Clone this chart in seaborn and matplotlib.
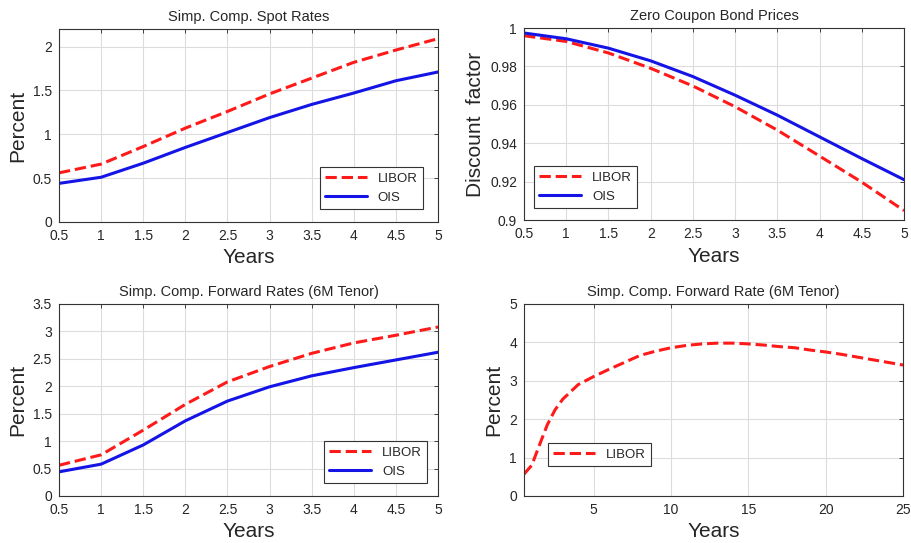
import numpy as np
import pandas as pd
import seaborn as sns
import matplotlib
matplotlib.use("Agg")
import matplotlib.pyplot as plt

# Maturities (years)
years = [0.5, 1.0, 1.5, 2.0, 2.5, 3.0, 3.5, 4.0, 4.5, 5.0]
year_labels = ["0.5", "1", "1.5", "2", "2.5", "3", "3.5", "4", "4.5", "5"]

# Simple compounded spot rates (%)
spot_libor = [0.56, 0.66, 0.86, 1.07, 1.26, 1.46, 1.64, 1.82, 1.96, 2.09]
spot_ois = [0.44, 0.51, 0.67, 0.85, 1.02, 1.19, 1.34, 1.47, 1.61, 1.71]

# Zero coupon bond prices
zcb_libor = [0.9960, 0.9930, 0.9870, 0.9790, 0.9698, 0.9590, 0.9468, 0.9333, 0.9197, 0.9049]
zcb_ois = [0.9974, 0.9944, 0.9895, 0.9829, 0.9747, 0.9650, 0.9546, 0.9433, 0.9320, 0.9210]

# Simple compounded forward rates, 6M tenor (%)
fwd_libor = [0.56, 0.75, 1.20, 1.67, 2.08, 2.36, 2.60, 2.79, 2.93, 3.08]
fwd_ois = [0.44, 0.58, 0.93, 1.37, 1.73, 1.99, 2.19, 2.34, 2.48, 2.62]

# Long horizon LIBOR forward curve
long_years = [0.5, 1, 1.5, 2, 2.5, 3, 4, 5, 6, 7, 8, 9, 10, 11, 12, 13, 14,
              15, 16, 17, 18, 19, 20, 21, 22, 23, 24, 25]
long_libor = [0.57, 0.80, 1.33, 1.85, 2.24, 2.52, 2.90, 3.11, 3.30, 3.48, 3.66,
              3.77, 3.86, 3.92, 3.96, 3.98, 3.98, 3.96, 3.93, 3.89, 3.86, 3.80,
              3.75, 3.69, 3.62, 3.55, 3.48, 3.41]

RED = "#ff1a1a"
BLUE = "#1414e6"

sns.set_style("white")
plt.rcParams["font.family"] = ["Liberation Sans", "DejaVu Sans"]
plt.rcParams["xtick.direction"] = "in"
plt.rcParams["ytick.direction"] = "in"


def style_axes(ax, title, ylabel):
    ax.set_title(title, fontsize=10.5, pad=6)
    ax.set_xlabel("Years", fontsize=15, labelpad=4)
    ax.set_ylabel(ylabel, fontsize=15, labelpad=4)
    ax.grid(True, color="#dcdcdc", linewidth=0.8)
    ax.tick_params(labelsize=10, top=True, right=True, length=3, width=0.6)
    ax.tick_params(axis="x", pad=5)
    ax.tick_params(axis="y", pad=5)
    for s in ax.spines.values():
        s.set_color("#333333")
        s.set_linewidth(0.8)


def add_legend(ax, loc, anchor):
    leg = ax.legend(loc=loc, bbox_to_anchor=anchor, borderaxespad=0,
                    fontsize=9.5, fancybox=False, framealpha=1,
                    edgecolor="#333333", handlelength=3.2)
    leg.get_frame().set_linewidth(0.8)


fig = plt.figure(figsize=(9.12, 5.43), dpi=100)
ax1 = fig.add_axes([0.0647, 0.5912, 0.4156, 0.3554])
ax2 = fig.add_axes([0.5746, 0.5948, 0.4167, 0.3536])
ax3 = fig.add_axes([0.0647, 0.0866, 0.4156, 0.3536])
ax4 = fig.add_axes([0.5746, 0.0866, 0.4156, 0.3536])

# Spot rates
sns.lineplot(x=years, y=spot_libor, ax=ax1, color=RED, linestyle="--", linewidth=2.2, label="LIBOR")
sns.lineplot(x=years, y=spot_ois, ax=ax1, color=BLUE, linewidth=2.2, label="OIS")
ax1.set_xlim(0.5, 5)
ax1.set_ylim(0, 2.2)
ax1.set_xticks(years)
ax1.set_xticklabels(year_labels)
ax1.set_yticks([0, 0.5, 1, 1.5, 2])
ax1.set_yticklabels(["0", "0.5", "1", "1.5", "2"])
style_axes(ax1, "Simp. Comp. Spot Rates", "Percent")
add_legend(ax1, "lower right", (0.96, 0.067))

# Zero coupon bond prices
sns.lineplot(x=years, y=zcb_libor, ax=ax2, color=RED, linestyle="--", linewidth=2.2, label="LIBOR")
sns.lineplot(x=years, y=zcb_ois, ax=ax2, color=BLUE, linewidth=2.2, label="OIS")
ax2.set_xlim(0.5, 5)
ax2.set_ylim(0.9, 1.0)
ax2.set_xticks(years)
ax2.set_xticklabels(year_labels)
ax2.set_yticks([0.9, 0.92, 0.94, 0.96, 0.98, 1.0])
ax2.set_yticklabels(["0.9", "0.92", "0.94", "0.96", "0.98", "1"])
style_axes(ax2, "Zero Coupon Bond Prices", "Discount  factor")
add_legend(ax2, "lower left", (0.026, 0.0625))

# Forward rates
sns.lineplot(x=years, y=fwd_libor, ax=ax3, color=RED, linestyle="--", linewidth=2.2, label="LIBOR")
sns.lineplot(x=years, y=fwd_ois, ax=ax3, color=BLUE, linewidth=2.2, label="OIS")
ax3.set_xlim(0.5, 5)
ax3.set_ylim(0, 3.5)
ax3.set_xticks(years)
ax3.set_xticklabels(year_labels)
ax3.set_yticks(np.arange(0, 3.51, 0.5))
ax3.set_yticklabels(["0", "0.5", "1", "1.5", "2", "2.5", "3", "3.5"])
style_axes(ax3, "Simp. Comp. Forward Rates (6M Tenor)", "Percent")
add_legend(ax3, "lower right", (0.971, 0.068))

# Long forward curve
sns.lineplot(x=long_years, y=long_libor, ax=ax4, color=RED, linestyle="--", linewidth=2.2, label="LIBOR")
ax4.set_xlim(0.5, 25)
ax4.set_ylim(0, 5)
ax4.set_xticks([5, 10, 15, 20, 25])
ax4.set_yticks([0, 1, 2, 3, 4, 5])
style_axes(ax4, "Simp. Comp. Forward Rate (6M Tenor)", "Percent")
add_legend(ax4, "lower left", (0.063, 0.156))

fig.savefig("out.png", dpi=100, facecolor="white")
